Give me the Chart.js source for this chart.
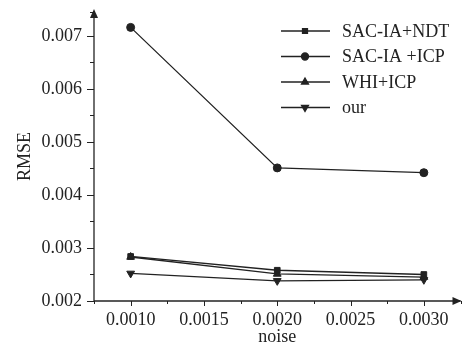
<!DOCTYPE html>
<html>
  <head>
    <title>RMSE vs noise</title>
    <script src="https://cdn.jsdelivr.net/npm/chart.js"></script>
    <style>
      body {
        margin: 0;
        background: #fff;
      }

      #wrap {
        width: 466px;
        height: 346px;
      }
    </style>
  </head>
  <body>
    <div id="wrap"><canvas id="rmseChart"></canvas></div>

    <script>
      // values
      const noise = [0.001, 0.002, 0.003];
      const ndt = [0.00284, 0.00258, 0.0025];
      const icp = [0.00716, 0.00451, 0.00442];
      const whi = [0.00283, 0.00251, 0.00245];
      const our = [0.00252, 0.00238, 0.0024];

      const seriesNames = ['SAC-IA+NDT', 'SAC-IA +ICP', 'WHI+ICP', 'our'];
      const seriesValues = [ndt, icp, whi, our];
      const markers = [
        { style: 'rect', radius: 4, rotation: 0 },
        { style: 'circle', radius: 4, rotation: 0 },
        { style: 'triangle', radius: 4.5, rotation: 0 },
        { style: 'triangle', radius: 4.5, rotation: 180 },
      ];

      const ink = '#222';
      const serif = "'Liberation Serif', 'Times New Roman', serif";

      const datasets = seriesNames.map((name, i) => ({
        label: name,
        data: noise.map((x, j) => ({ x: x, y: seriesValues[i][j] })),
        borderColor: ink,
        backgroundColor: ink,
        borderWidth: 1.3,
        pointStyle: markers[i].style,
        pointRadius: markers[i].radius,
        pointRotation: markers[i].rotation,
        pointBorderWidth: 1,
        fill: false,
        tension: 0,
      }));

      const isStep = (v, step) => Math.abs(v / step - Math.round(v / step)) < 1e-6;

      // axes with arrows, outward ticks and the legend box
      const axesPlugin = {
        id: 'axesPlugin',
        afterDraw(chart) {
          const ctx = chart.ctx;
          const area = chart.chartArea;
          const xs = chart.scales.x;
          const ys = chart.scales.y;
          ctx.save();
          ctx.strokeStyle = ink;
          ctx.fillStyle = ink;
          ctx.lineWidth = 1.3;

          // y axis
          ctx.beginPath();
          ctx.moveTo(area.left, area.bottom);
          ctx.lineTo(area.left, area.top);
          ctx.stroke();
          ctx.beginPath();
          ctx.moveTo(area.left, area.top - 3);
          ctx.lineTo(area.left - 4, area.top + 6);
          ctx.lineTo(area.left + 4, area.top + 6);
          ctx.closePath();
          ctx.fill();

          // x axis
          ctx.beginPath();
          ctx.moveTo(area.left, area.bottom);
          ctx.lineTo(area.right, area.bottom);
          ctx.stroke();
          ctx.beginPath();
          ctx.moveTo(area.right + 1, area.bottom);
          ctx.lineTo(area.right - 8, area.bottom - 4);
          ctx.lineTo(area.right - 8, area.bottom + 4);
          ctx.closePath();
          ctx.fill();

          ctx.lineWidth = 1;
          ys.ticks.forEach((t) => {
            const y = Math.round(ys.getPixelForValue(t.value)) + 0.5;
            const len = isStep(t.value, 0.001) ? 7 : 4;
            ctx.beginPath();
            ctx.moveTo(area.left, y);
            ctx.lineTo(area.left - len, y);
            ctx.stroke();
          });
          xs.ticks.forEach((t) => {
            const x = Math.round(xs.getPixelForValue(t.value)) + 0.5;
            const len = isStep(t.value, 0.0005) ? 5 : 3;
            ctx.beginPath();
            ctx.moveTo(x, area.bottom);
            ctx.lineTo(x, area.bottom + len);
            ctx.stroke();
          });

          // legend
          ctx.font = '18px ' + serif;
          ctx.textBaseline = 'middle';
          ctx.textAlign = 'left';
          seriesNames.forEach((name, i) => {
            const y = 31 + i * 25.5;
            ctx.lineWidth = 1.3;
            ctx.beginPath();
            ctx.moveTo(281, y);
            ctx.lineTo(330, y);
            ctx.stroke();
            Chart.helpers.drawPoint(
              ctx,
              {
                pointStyle: markers[i].style,
                radius: markers[i].radius - 0.5,
                rotation: markers[i].rotation,
                borderWidth: 1,
              },
              305,
              y
            );
            ctx.fillText(name, 342, y + 1);
          });
          ctx.restore();
        },
      };

      const ctx = document.getElementById('rmseChart').getContext('2d');
      const chart = new Chart(ctx, {
        type: 'line',
        data: { datasets: datasets },
        options: {
          responsive: true,
          maintainAspectRatio: false,
          animation: false,
          layout: { padding: { top: 12, right: 3, left: 0, bottom: 0 } },
          plugins: {
            legend: { display: false },
            tooltip: { enabled: false },
          },
          scales: {
            x: {
              type: 'linear',
              min: 0.00075,
              max: 0.00325,
              afterFit: (s) => {
                s.height = 45;
                s.paddingLeft = 0;
                s.paddingRight = 0;
              },
              grid: { display: false, drawTicks: false },
              border: { display: false },
              ticks: {
                stepSize: 0.00025,
                autoSkip: false,
                maxRotation: 0,
                padding: 8,
                color: ink,
                font: { family: serif, size: 18 },
                callback: (v) => (isStep(v, 0.0005) ? v.toFixed(4) : ''),
              },
              title: {
                display: true,
                text: 'noise',
                color: ink,
                font: { family: serif, size: 18, lineHeight: 1 },
                padding: { top: 0, bottom: 0 },
              },
            },
            y: {
              min: 0.002,
              max: 0.00745,
              afterFit: (s) => {
                s.width = 94;
                s.paddingTop = 0;
                s.paddingBottom = 0;
              },
              grid: { display: false, drawTicks: false },
              border: { display: false },
              ticks: {
                stepSize: 0.0005,
                autoSkip: false,
                padding: 12,
                color: ink,
                font: { family: serif, size: 18 },
                callback: (v) => (isStep(v, 0.001) ? v.toFixed(3) : ''),
              },
              title: {
                display: true,
                text: 'RMSE',
                color: ink,
                font: { family: serif, size: 18, lineHeight: 1 },
                padding: { top: 16, bottom: 0 },
              },
            },
          },
        },
        plugins: [axesPlugin],
      });
    </script>
  </body>
</html>
